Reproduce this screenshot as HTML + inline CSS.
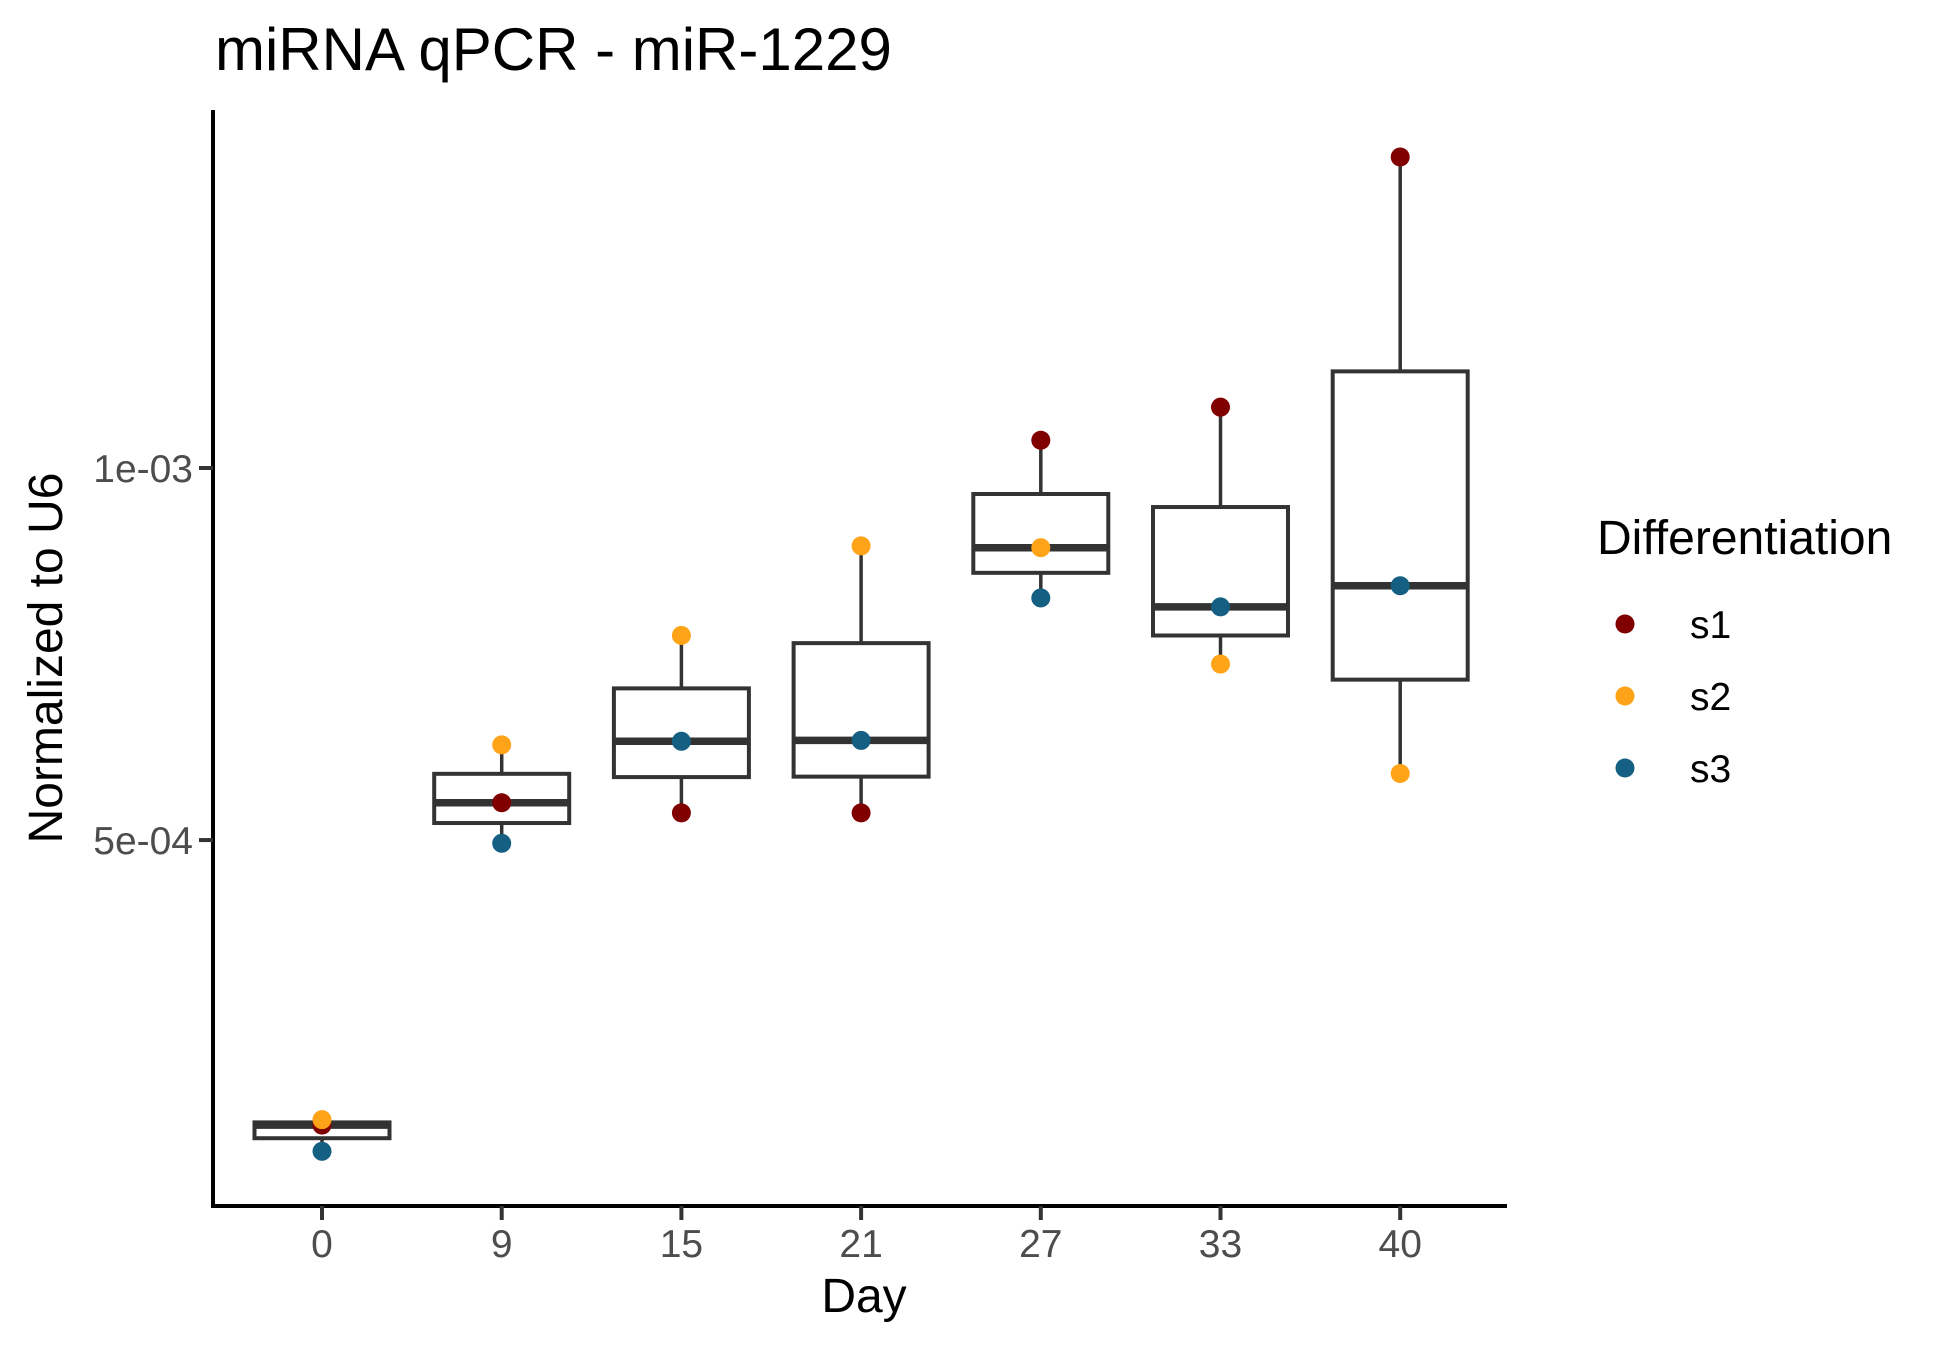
<!DOCTYPE html>
<html><head><meta charset="utf-8"><style>
html,body{margin:0;padding:0;background:#fff;}
svg{display:block;font-family:"Liberation Sans",Arial,sans-serif;}
</style></head><body>
<svg id="chart" width="1950" height="1350" viewBox="0 0 1950 1350">
<text x="215" y="70" font-size="60" fill="#000">miRNA qPCR - miR-1229</text>
<g id="plot"></g>
<text x="864" y="1312" font-size="48" text-anchor="middle" fill="#000">Day</text>
<text transform="translate(62,658) rotate(-90)" font-size="48" text-anchor="middle" fill="#000">Normalized to U6</text>
<g>
<text x="1597" y="554" font-size="48" fill="#000">Differentiation</text>
<g id="legend-items"></g>
</g>
</svg>
<script>
const days = ["0","9","15","21","27","33","40"];
const seriesNames = ["s1","s2","s3"];
const s1 = [2.94e-4, 5.36e-4, 5.26e-4, 5.26e-4, 1.053e-3, 1.120e-3, 1.785e-3];
const s2 = [2.97e-4, 5.97e-4, 7.32e-4, 8.65e-4, 8.62e-4, 6.94e-4, 5.66e-4];
const s3 = [2.80e-4, 4.97e-4, 6.01e-4, 6.02e-4, 7.85e-4, 7.72e-4, 8.03e-4];
const yTicks = [5e-4, 1e-3];
const yTickLabels = ["5e-04", "1e-03"];
const colors = ["#800000", "#FFA319", "#155F83"];

const NS = "http://www.w3.org/2000/svg";
const plot = document.getElementById('plot');
function xScale(i){ return 322 + 179.7*i; }
function yScale(v){ return 468 - 1236*Math.log10(v/1e-3); }
function mk(tag, attrs, parent){
  const e = document.createElementNS(NS, tag);
  for (const k in attrs) e.setAttribute(k, attrs[k]);
  (parent||plot).appendChild(e);
  return e;
}
function quantileLog(arr, p){
  const s = arr.map(v=>Math.log10(v)).sort((a,b)=>a-b);
  const h = (s.length-1)*p, lo = Math.floor(h), hi = Math.ceil(h);
  return Math.pow(10, s[lo] + (s[hi]-s[lo])*(h-lo));
}
const allSeries = [s1, s2, s3];
days.forEach((d,i)=>{
  const vals = allSeries.map(s=>s[i]);
  const q1 = quantileLog(vals,0.25), med = quantileLog(vals,0.5), q3 = quantileLog(vals,0.75);
  const mn = Math.min(...vals), mx = Math.max(...vals);
  const cx = xScale(i), hw = 67.5;
  const g = mk('g', {});
  
  
  const w1 = mk('line', {x1:cx, x2:cx, y1:yScale(q3), y2:yScale(mx), stroke:'#333', 'stroke-width':3.5}, g);
  
  
  const w2 = mk('line', {x1:cx, x2:cx, y1:yScale(q1), y2:yScale(mn), stroke:'#333', 'stroke-width':3.5}, g);
  
  
  const r = mk('rect', {x:cx-hw, y:yScale(q3), width:2*hw, height:yScale(q1)-yScale(q3), fill:'#fff', stroke:'#333', 'stroke-width':4}, g);
  
  
  const m = mk('line', {x1:cx-hw, x2:cx+hw, y1:yScale(med), y2:yScale(med), stroke:'#333', 'stroke-width':7.5}, g);
  
  
});
allSeries.forEach((s,k)=>{
  s.forEach((v,i)=>{
    const c = mk('circle', {cx:xScale(i), cy:yScale(v), r:9.5, fill:colors[k]});
    
    
  });
});
const ya = mk('line', {x1:213, x2:213, y1:110, y2:1208, stroke:'#000', 'stroke-width':4});


const xa = mk('line', {x1:211, x2:1507, y1:1206, y2:1206, stroke:'#000', 'stroke-width':4});


yTicks.forEach((t,j)=>{
  const y = yScale(t);
  const tk = mk('line', {x1:199, x2:213, y1:y, y2:y, stroke:'#333', 'stroke-width':4});
  
  
  const tx = mk('text', {x:193, y:y+14, 'font-size':39, fill:'#4d4d4d', 'text-anchor':'end'});
  tx.textContent = yTickLabels[j];
  
  
});
days.forEach((d,i)=>{
  const x = xScale(i);
  const tk = mk('line', {x1:x, x2:x, y1:1206, y2:1220, stroke:'#333', 'stroke-width':4});
  
  
  const tx = mk('text', {x:x, y:1257, 'font-size':39, fill:'#4d4d4d', 'text-anchor':'middle'});
  tx.textContent = d;
  
  
});
const li = document.getElementById('legend-items');
seriesNames.forEach((n,k)=>{
  const y = 624 + 72*k;
  const c = mk('circle', {cx:1625, cy:y, r:9.5, fill:colors[k]}, li);
  
  
  const t = mk('text', {x:1690, y:y+14, 'font-size':39, fill:'#000'}, li);
  t.textContent = n;
  
  
});
</script>
</body></html>
